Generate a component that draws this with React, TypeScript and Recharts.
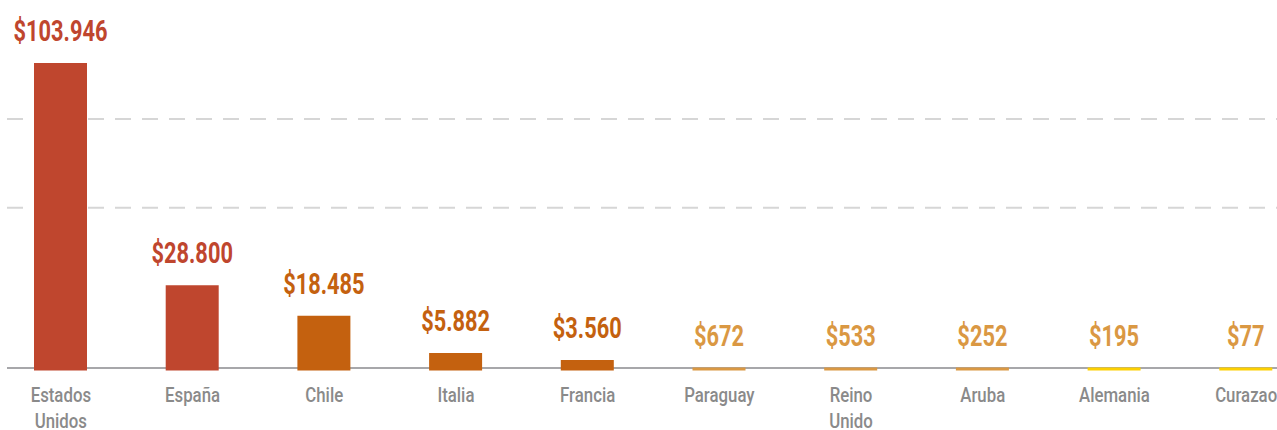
import {BarChart, Bar, XAxis, YAxis, CartesianGrid, Cell, LabelList} from 'recharts'

const countries = ['Estados Unidos', 'España', 'Chile', 'Italia', 'Francia', 'Paraguay', 'Reino Unido', 'Aruba', 'Alemania', 'Curazao']
const amounts = [103946, 28800, 18485, 5882, 3560, 672, 533, 252, 195, 77]
const gridValues = [55000, 85000]
const baseValue = [850]

const barColors = ['#bf462e', '#bf462e', '#c4610f', '#c4610f', '#c4610f', '#da9843', '#da9843', '#da9843', '#fdd000', '#fdd000']
const labelColors = ['#bf462e', '#bf462e', '#c4610f', '#c4610f', '#c4610f', '#da9843', '#da9843', '#da9843', '#da9843', '#da9843']

const data = countries.map((name, i) => ({name, amount: amounts[i]}))

const fmt = (v: number) => '$' + v.toString().replace(/\B(?=(\d{3})+(?!\d))/g, '.')

// no Oswald offline, so squeeze Roboto horizontally to get the condensed look
const labelFont = 'Roboto, "DejaVu Sans Condensed", sans-serif'

const CountryTick = ({x, y, payload}: any) => {
    const lines = String(payload.value).split(' ')
    return (
        <g transform={`translate(${x} ${y}) scale(0.8 1)`}>
            <text x={0} y={0} textAnchor="middle" fill="#8a8a8a" fontFamily={labelFont} fontWeight={500} fontSize={21}>
                {lines.map((l, i) => (
                    <tspan key={i} x={0} dy={i === 0 ? 30 : 25.5}>{l}</tspan>
                ))}
            </text>
        </g>
    )
}

const ValueLabel = ({x, y, width, value, index}: any) => {
    return (
        <g transform={`translate(${x + width / 2} ${y - 22}) scale(0.74 1)`}>
            <text
                x={0}
                y={0}
                textAnchor="middle"
                fill={labelColors[index]}
                fontFamily={labelFont}
                fontWeight="bold"
                fontSize={29.5}
            >
                {fmt(value)}
            </text>
        </g>
    )
}

const App = () => {
    return (
        <div style={{position: 'absolute', left: 0, top: 0, width: 1277, height: 430, overflow: 'hidden', background: '#fff'}}>
            <BarChart width={1312} height={430} data={data} margin={{top: 15.5, right: 0, left: 7, bottom: 0}}>
                <CartesianGrid horizontal vertical={false} horizontalValues={gridValues} stroke="#d6d6d6" strokeWidth={2} strokeDasharray="16 11" />
                <CartesianGrid horizontal vertical={false} horizontalValues={baseValue} stroke="#a7a7aa" strokeWidth={2} />
                <XAxis
                    dataKey="name"
                    interval={0}
                    axisLine={false}
                    tickLine={false}
                    tickSize={0}
                    height={59.5}
                    padding={{left: -12, right: 0}}
                    tick={<CountryTick />}
                />
                <YAxis hide domain={[0, 120000]} />
                <Bar dataKey="amount" barSize={53} minPointSize={3} isAnimationActive={false}>
                    {data.map((d, i) => (
                        <Cell key={d.name} fill={barColors[i]} />
                    ))}
                    <LabelList dataKey="amount" content={<ValueLabel />} />
                </Bar>
            </BarChart>
        </div>
    )
}

export default App
